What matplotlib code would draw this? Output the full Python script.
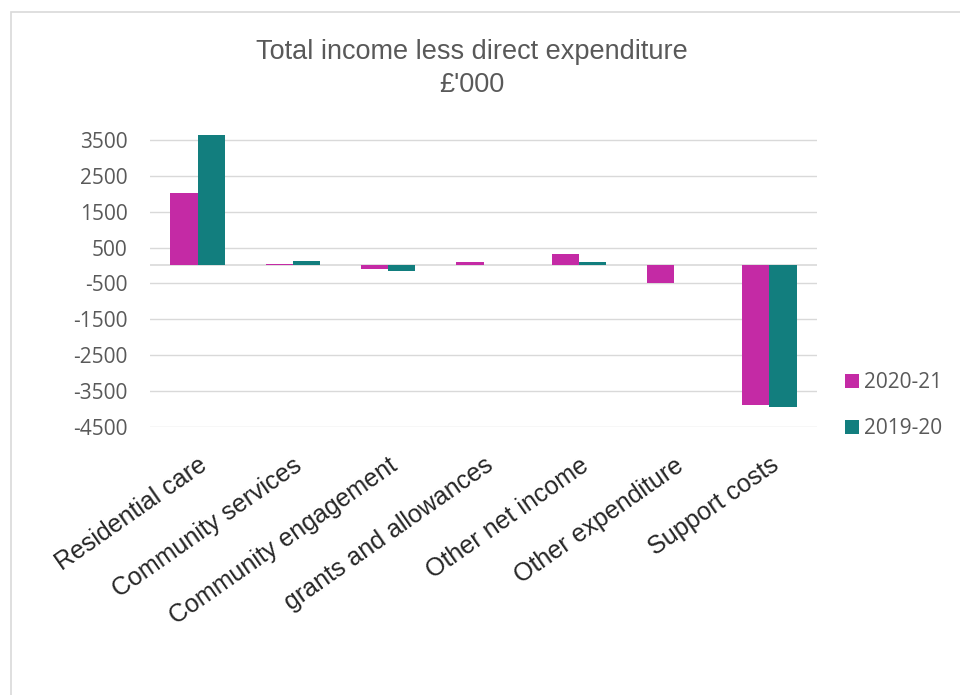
import matplotlib
matplotlib.use("Agg")
import matplotlib.pyplot as plt
import numpy as np
from matplotlib.patches import Rectangle

categories = ["Residential care", "Community services", "Community engagement",
              "grants and allowances", "Other net income", "Other expenditure",
              "Support costs"]
series_2020_21 = [2010, 50, -100, 90, 330, -480, -3900]
series_2019_20 = [3650, 135, -160, 0, 100, 0, -3950]
series_names = ["2020-21", "2019-20"]
yticks = [3500, 2500, 1500, 500, -500, -1500, -2500, -3500, -4500]

pink = "#C42AA5"
teal = "#127E7E"
grid_c = "#D9D9D9"
txt_grey = "#595959"

fig = plt.figure(figsize=(9.6, 6.95), dpi=100)
fig.patch.set_facecolor("white")

# outer chart border
fig.add_artist(Rectangle((11/960, -0.2), 1.2, 1.2 - 12/695,
                         transform=fig.transFigure, fill=False,
                         edgecolor=grid_c, linewidth=1.2))

ax = fig.add_axes([150/960, 1 - 426.7/695, 667/960, (426.7 - 122.1)/695])
x = np.arange(len(categories))
w = 0.285
b1 = ax.bar(x - w/2, series_2020_21, w, color=pink, label=series_names[0], zorder=3)
b2 = ax.bar(x + w/2, series_2019_20, w, color=teal, label=series_names[1], zorder=3)

ax.set_xlim(-0.5, len(categories) - 0.5)
ax.set_ylim(-4500, 4000)
ax.set_yticks(yticks)
ax.set_yticklabels([str(v) for v in yticks], fontfamily="Open Sans",
                   fontsize=15, color=txt_grey)
ax.yaxis.grid(True, color=grid_c, linewidth=1.0, zorder=0)
ax.axhline(0, color=grid_c, linewidth=1.2, zorder=2)
for s in ax.spines.values():
    s.set_visible(False)
ax.tick_params(axis="y", length=0, pad=16)
ax.tick_params(axis="x", length=0, pad=19)
ax.set_xticks(x)
ax.set_xticklabels(categories, rotation=35, ha="right", va="top",
                   rotation_mode="anchor", fontfamily="Liberation Sans",
                   fontsize=18, color="#262626")

fig.text(472/960, 1 - 68.5/695, "Total income less direct expenditure\n£'000",
         ha="center", va="center", fontfamily="Liberation Sans", fontsize=19.5,
         color=txt_grey, linespacing=1.35)

leg = fig.legend(handles=[b1, b2], labels=series_names, loc="upper left",
                 bbox_to_anchor=(845/960, 1 - 372/695), frameon=False,
                 prop={"family": "Open Sans", "size": 15},
                 handlelength=0.65, handleheight=0.65, handletextpad=0.25,
                 labelspacing=1.2, borderpad=0, borderaxespad=0)
for t in leg.get_texts():
    t.set_color(txt_grey)

fig.savefig("out.png", dpi=100, facecolor="white")
